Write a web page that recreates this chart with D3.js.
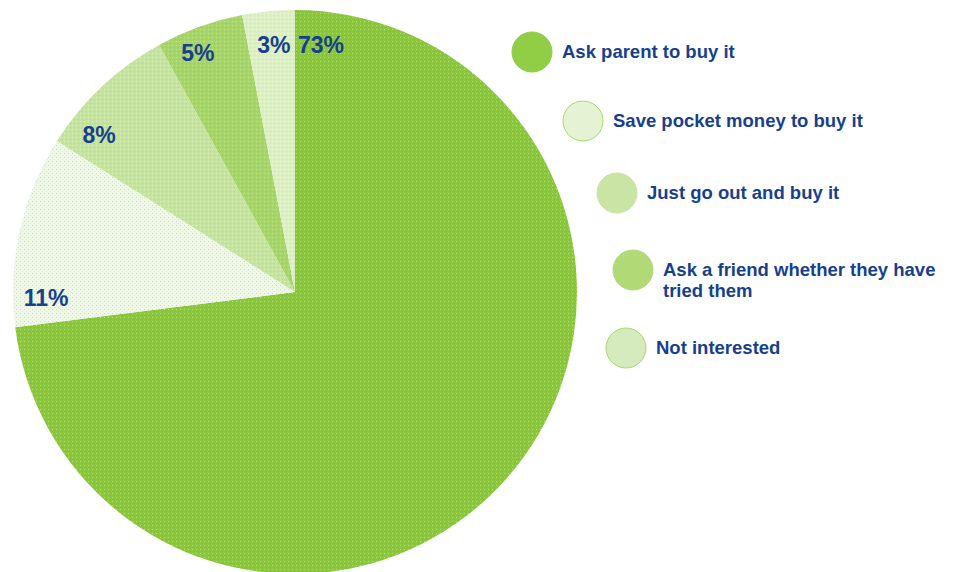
<!DOCTYPE html>
<html>
<head>
<meta charset="utf-8">
<script src="https://cdn.jsdelivr.net/npm/d3@7"></script>
<style>
  html, body { margin: 0; padding: 0; background: #ffffff; }
  svg { display: block; }
  text { font-family: "Liberation Sans", Arial, sans-serif; font-weight: bold; fill: #173f8e; }
</style>
</head>
<body>
<svg id="chart" width="953" height="572"></svg>
<script>
// Survey answers, in drawing order (clockwise from 12 o'clock)
const categories = [
  "Ask parent to buy it",
  "Save pocket money to buy it",
  "Just go out and buy it",
  "Ask a friend whether they have tried them",
  "Not interested"
];
const shares = [73, 11, 8, 5, 3];
const percentLabels = ["73%", "11%", "8%", "5%", "3%"];
const legendLines = [
  ["Ask parent to buy it"],
  ["Save pocket money to buy it"],
  ["Just go out and buy it"],
  ["Ask a friend whether they have", "tried them"],
  ["Not interested"]
];

// Slice fills: base tone plus the two dot tones of the texture
const fills = [
  { base: "#8cc640", dot: "#a8ea5e", dot2: "#84bb3a" },
  { base: "#eff8e6", dot: "#d8d0da", dot2: "#d4efbe" },
  { base: "#c6e3a1", dot: "#dbf0bc", dot2: "#b6d88a" },
  { base: "#a8d46c", dot: "#c0e688", dot2: "#9aca5e" },
  { base: "#dcefc5", dot: "#ecf8dc", dot2: "#cbe5aa" }
];
const legendFills = ["#92cd46", "#e5f3d4", "#c9e4a4", "#b1da76", "#d6ebbd"];
const legendStrokes = ["#92cd46", "#a8d86c", "#c9e4a4", "#b1da76", "#a8d86c"];

const svg = d3.select("#chart");
const defs = svg.append("defs");

fills.forEach((f, i) => {
  const p = defs.append("pattern")
    .attr("id", "tex" + i)
    .attr("patternUnits", "userSpaceOnUse")
    .attr("width", 4).attr("height", 4);
  p.append("rect").attr("width", 4).attr("height", 4).attr("fill", f.base);
  p.append("rect").attr("x", 1).attr("y", 1).attr("width", 1).attr("height", 1).attr("fill", f.dot);
  p.append("rect").attr("x", 3).attr("y", 3).attr("width", 1).attr("height", 1).attr("fill", f.dot2);
});

// Pie geometry
const cx = 295, cy = 292, R = 282;
const pie = d3.pie().sort(null).value(d => d).startAngle(0).endAngle(2 * Math.PI);
const arcs = pie(shares);
const arc = d3.arc().innerRadius(0).outerRadius(R);

const g = svg.append("g").attr("transform", `translate(${cx},${cy})`);
g.selectAll("path.slice")
  .data(arcs)
  .join("path")
  .attr("class", "slice")
  .attr("d", arc)
  .attr("fill", (d, i) => `url(#tex${i})`);

// Percentage labels sit near the rim; angle (deg, clockwise from top) and radius per slice
const labelPolar = [
  { a: 6.0, r: 248 },
  { a: 268.6, r: 249 },
  { a: 308.7, r: 251 },
  { a: 337.9, r: 258 },
  { a: 355.1, r: 248 }
];
g.selectAll("text.pct")
  .data(arcs)
  .join("text")
  .attr("class", "pct")
  .attr("text-anchor", "middle")
  .attr("font-size", 23)
  .attr("x", (d, i) => labelPolar[i].r * Math.sin(labelPolar[i].a * Math.PI / 180))
  .attr("y", (d, i) => -labelPolar[i].r * Math.cos(labelPolar[i].a * Math.PI / 180) + 8)
  .text((d, i) => percentLabels[i]);

// Staggered legend
const legendPos = [
  { x: 532, y: 52 },
  { x: 583, y: 121 },
  { x: 617, y: 193 },
  { x: 633, y: 270 },
  { x: 626, y: 348 }
];
const leg = svg.append("g").selectAll("g")
  .data(categories)
  .join("g")
  .attr("transform", (d, i) => `translate(${legendPos[i].x},${legendPos[i].y})`);

leg.append("circle")
  .attr("r", 20)
  .attr("fill", (d, i) => legendFills[i])
  .attr("stroke", (d, i) => legendStrokes[i])
  .attr("stroke-width", 1);

leg.append("text")
  .attr("font-size", 18.5)
  .attr("x", 30)
  .attr("y", (d, i) => legendLines[i].length > 1 ? 6 : 6)
  .selectAll("tspan")
  .data((d, i) => legendLines[i])
  .join("tspan")
  .attr("x", 30)
  .attr("dy", (d, j) => j === 0 ? 0 : 21)
  .text(d => d);
</script>
</body>
</html>
